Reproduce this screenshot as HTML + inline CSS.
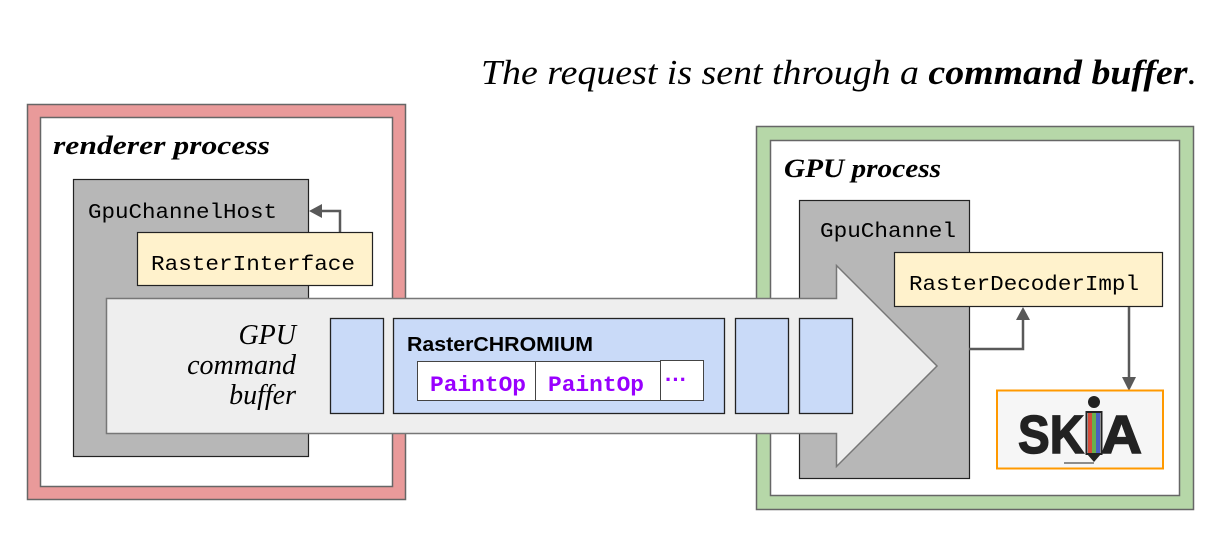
<!DOCTYPE html>
<html><head><meta charset="utf-8"><style>html,body{margin:0;padding:0;background:#fff}svg{display:block}</style></head>
<body>
<svg width="1231" height="559" viewBox="0 0 1231 559" xmlns="http://www.w3.org/2000/svg">
<text x="481" y="84" font-family="Liberation Serif, serif" font-style="italic" font-size="35" textLength="716" lengthAdjust="spacingAndGlyphs">The request is sent through a <tspan font-weight="bold">command buffer</tspan>.</text>

<!-- renderer process -->
<rect x="27.5" y="104.5" width="378" height="395" fill="#e99a9a" stroke="#666" stroke-width="1.5"/>
<rect x="40.5" y="117.5" width="352" height="369" fill="#fff" stroke="#666" stroke-width="1.5"/>
<text x="53" y="154" font-family="Liberation Serif, serif" font-style="italic" font-weight="bold" font-size="26" textLength="217" lengthAdjust="spacingAndGlyphs">renderer process</text>
<rect x="73.5" y="179.5" width="235" height="277" fill="#b7b7b7" stroke="#222" stroke-width="1.2"/>
<text x="88" y="218" font-family="Liberation Mono, monospace" font-size="21" textLength="189" lengthAdjust="spacingAndGlyphs">GpuChannelHost</text>
<polyline points="340,232 340,211 320,211" fill="none" stroke="#595959" stroke-width="2.5"/>
<polygon points="309,211 322,204 322,218" fill="#595959"/>
<rect x="137.5" y="232.5" width="235" height="53" fill="#fff2cc" stroke="#222" stroke-width="1.2"/>
<text x="151" y="270" font-family="Liberation Mono, monospace" font-size="21" textLength="204" lengthAdjust="spacingAndGlyphs">RasterInterface</text>

<!-- GPU process -->
<rect x="756.5" y="126.5" width="437" height="383" fill="#b6d7a8" stroke="#666" stroke-width="1.5"/>
<rect x="770.5" y="140.5" width="409" height="355" fill="#fff" stroke="#666" stroke-width="1.5"/>
<text x="784" y="177" font-family="Liberation Serif, serif" font-style="italic" font-weight="bold" font-size="26" textLength="157" lengthAdjust="spacingAndGlyphs">GPU process</text>
<rect x="799.5" y="200.5" width="170" height="278" fill="#b7b7b7" stroke="#222" stroke-width="1.2"/>
<text x="820" y="237" font-family="Liberation Mono, monospace" font-size="21" textLength="136" lengthAdjust="spacingAndGlyphs">GpuChannel</text>
<rect x="894.5" y="252.5" width="268" height="54" fill="#fff2cc" stroke="#222" stroke-width="1.2"/>
<text x="909" y="290" font-family="Liberation Mono, monospace" font-size="21" textLength="230" lengthAdjust="spacingAndGlyphs">RasterDecoderImpl</text>
<polyline points="969,349 1023,349 1023,318" fill="none" stroke="#595959" stroke-width="2.5"/>
<polygon points="1023,307 1016,320 1030,320" fill="#595959"/>
<line x1="1129" y1="307" x2="1129" y2="380" stroke="#595959" stroke-width="2.5"/>
<polygon points="1129,391 1122,377 1136,377" fill="#595959"/>

<!-- Skia -->
<rect x="997" y="390.5" width="166" height="78" fill="#f6f6f6" stroke="#ff9900" stroke-width="2"/>
<text x="1018" y="453" font-family="Liberation Sans, sans-serif" font-weight="bold" font-size="54" fill="#222" stroke="#222" stroke-width="1.5" textLength="66" lengthAdjust="spacingAndGlyphs">SK</text>
<rect x="1088" y="413" width="4" height="40" fill="#d44c3a"/>
<rect x="1092" y="413" width="4" height="40" fill="#6ab04c"/>
<rect x="1096" y="413" width="4" height="40" fill="#4a5fc1"/>
<rect x="1086.5" y="412" width="15" height="42" fill="none" stroke="#222" stroke-width="2"/>
<circle cx="1094" cy="402" r="6" fill="#222"/>
<polygon points="1087,454 1101,454 1094,462" fill="#222"/>
<line x1="1064" y1="463" x2="1094" y2="463" stroke="#222" stroke-width="1"/>
<text x="1101" y="453" font-family="Liberation Sans, sans-serif" font-weight="bold" font-size="54" fill="#222" stroke="#222" stroke-width="1.5" textLength="41" lengthAdjust="spacingAndGlyphs">A</text>

<!-- big arrow -->
<polygon points="106.5,298.5 836.5,298.5 836.5,265.5 937,366 836.5,466.5 836.5,433.5 106.5,433.5" fill="#eeeeee" stroke="#777" stroke-width="1.5"/>
<g font-family="Liberation Serif, serif" font-style="italic" font-size="28" text-anchor="end">
<text x="296" y="344">GPU</text>
<text x="296" y="374">command</text>
<text x="296" y="404">buffer</text>
</g>
<g fill="#c9daf8" stroke="#222" stroke-width="1.3">
<rect x="330.5" y="318.5" width="53" height="95"/>
<rect x="393.5" y="318.5" width="331" height="95"/>
<rect x="735.5" y="318.5" width="53" height="95"/>
<rect x="799.5" y="318.5" width="53" height="95"/>
</g>
<text x="407" y="351" font-family="Liberation Sans, sans-serif" font-weight="bold" font-size="20" textLength="186" lengthAdjust="spacingAndGlyphs">RasterCHROMIUM</text>
<g fill="#fff" stroke="#444" stroke-width="1">
<rect x="417.5" y="361.5" width="118" height="39"/>
<rect x="535.5" y="361.5" width="125" height="39"/>
<rect x="660.5" y="360.5" width="43" height="40"/>
</g>
<g font-family="Liberation Mono, monospace" font-weight="bold" font-size="22" fill="#9900ff">
<text x="430" y="391" textLength="96" lengthAdjust="spacingAndGlyphs">PaintOp</text>
<text x="548" y="391" textLength="96" lengthAdjust="spacingAndGlyphs">PaintOp</text>
</g>
<text x="665" y="387" font-family="Liberation Sans, sans-serif" font-weight="bold" font-size="22" fill="#9900ff">···</text>
</svg>
</body></html>
